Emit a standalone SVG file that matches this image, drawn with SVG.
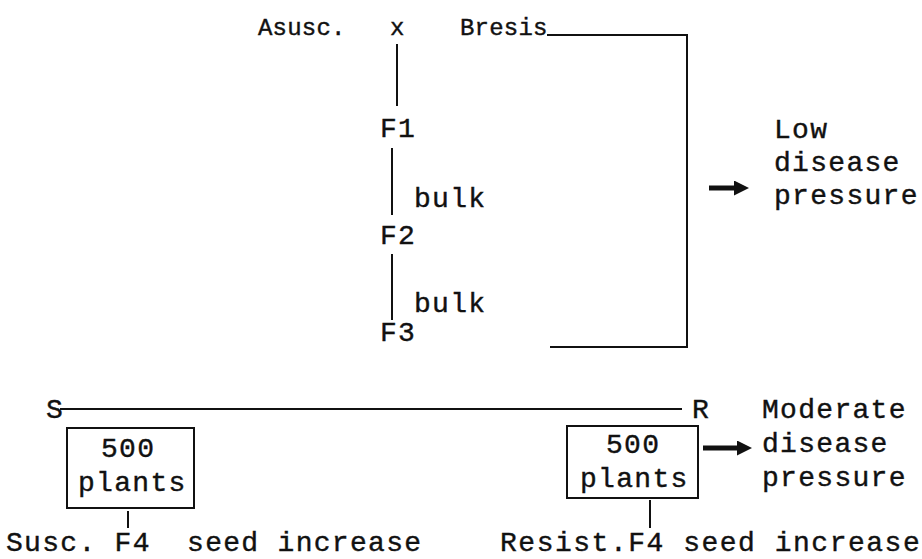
<svg xmlns="http://www.w3.org/2000/svg" width="922" height="559" viewBox="0 0 922 559">
<defs>
<style>
text{font-family:"Liberation Mono","Courier New",monospace;font-size:28px;letter-spacing:1.3px;fill:#111;stroke:#111;stroke-width:0.4;white-space:pre}
.sm{font-size:24px;letter-spacing:0.2px}
.ln{fill:none;stroke:#111;stroke-width:2}
.ar{fill:none;stroke:#111;stroke-width:5}
</style>
<marker id="ah" viewBox="0 0 10 10" refX="2" refY="5" markerWidth="3" markerHeight="3" orient="auto" markerUnits="strokeWidth">
<path d="M0,0 L10,5 L0,10 z" fill="#111"/>
</marker>
</defs>
<rect width="922" height="559" fill="#fff"/>
<g id="connectors">
<path class="ln" d="M547,35 H687 V347 H550"/>
<line class="ln" x1="397" y1="44" x2="397" y2="106"/>
<line class="ln" x1="392" y1="148" x2="392" y2="215"/>
<line class="ln" x1="392" y1="254" x2="392" y2="320"/>
<line class="ar" x1="709" y1="188" x2="737" y2="188" marker-end="url(#ah)"/>
<line class="ln" x1="60" y1="409" x2="682" y2="409"/>
<line class="ln" x1="128" y1="511" x2="128" y2="528"/>
<line class="ln" x1="650" y1="500" x2="650" y2="528"/>
<line class="ar" x1="703" y1="448" x2="740" y2="448" marker-end="url(#ah)"/>
</g>
<g id="parentA"><text class="sm" x="258" y="35">Asusc.</text></g>
<g id="cross"><text class="sm" x="390" y="35">x</text></g>
<g id="parentB"><text class="sm" x="460" y="35">Bresis</text></g>
<g id="F1"><text x="380" y="137">F1</text></g>
<g id="bulk1"><text x="414" y="207">bulk</text></g>
<g id="F2"><text x="380" y="244">F2</text></g>
<g id="bulk2"><text x="414" y="312">bulk</text></g>
<g id="F3"><text x="380" y="341">F3</text></g>
<g id="low"><text x="774" y="138">Low</text><text x="774" y="171">disease</text><text x="774" y="204">pressure</text></g>
<g id="S"><text x="46" y="418">S</text></g>
<g id="R"><text x="692" y="418">R</text></g>
<g id="moderate"><text x="762" y="418">Moderate</text><text x="762" y="452">disease</text><text x="762" y="486">pressure</text></g>
<g id="boxS"><rect class="ln" x="67" y="428" width="127" height="80"/><text x="101" y="457">500</text><text x="78" y="491">plants</text></g>
<g id="susc"><text x="6" y="551">Susc. F4  seed increase</text></g>
<g id="boxR"><rect class="ln" x="567" y="426" width="131" height="72"/><text x="606" y="453">500</text><text x="580" y="487">plants</text></g>
<g id="resist"><text x="500" y="551" textLength="421" lengthAdjust="spacing">Resist.F4 seed increase</text></g>
</svg>
